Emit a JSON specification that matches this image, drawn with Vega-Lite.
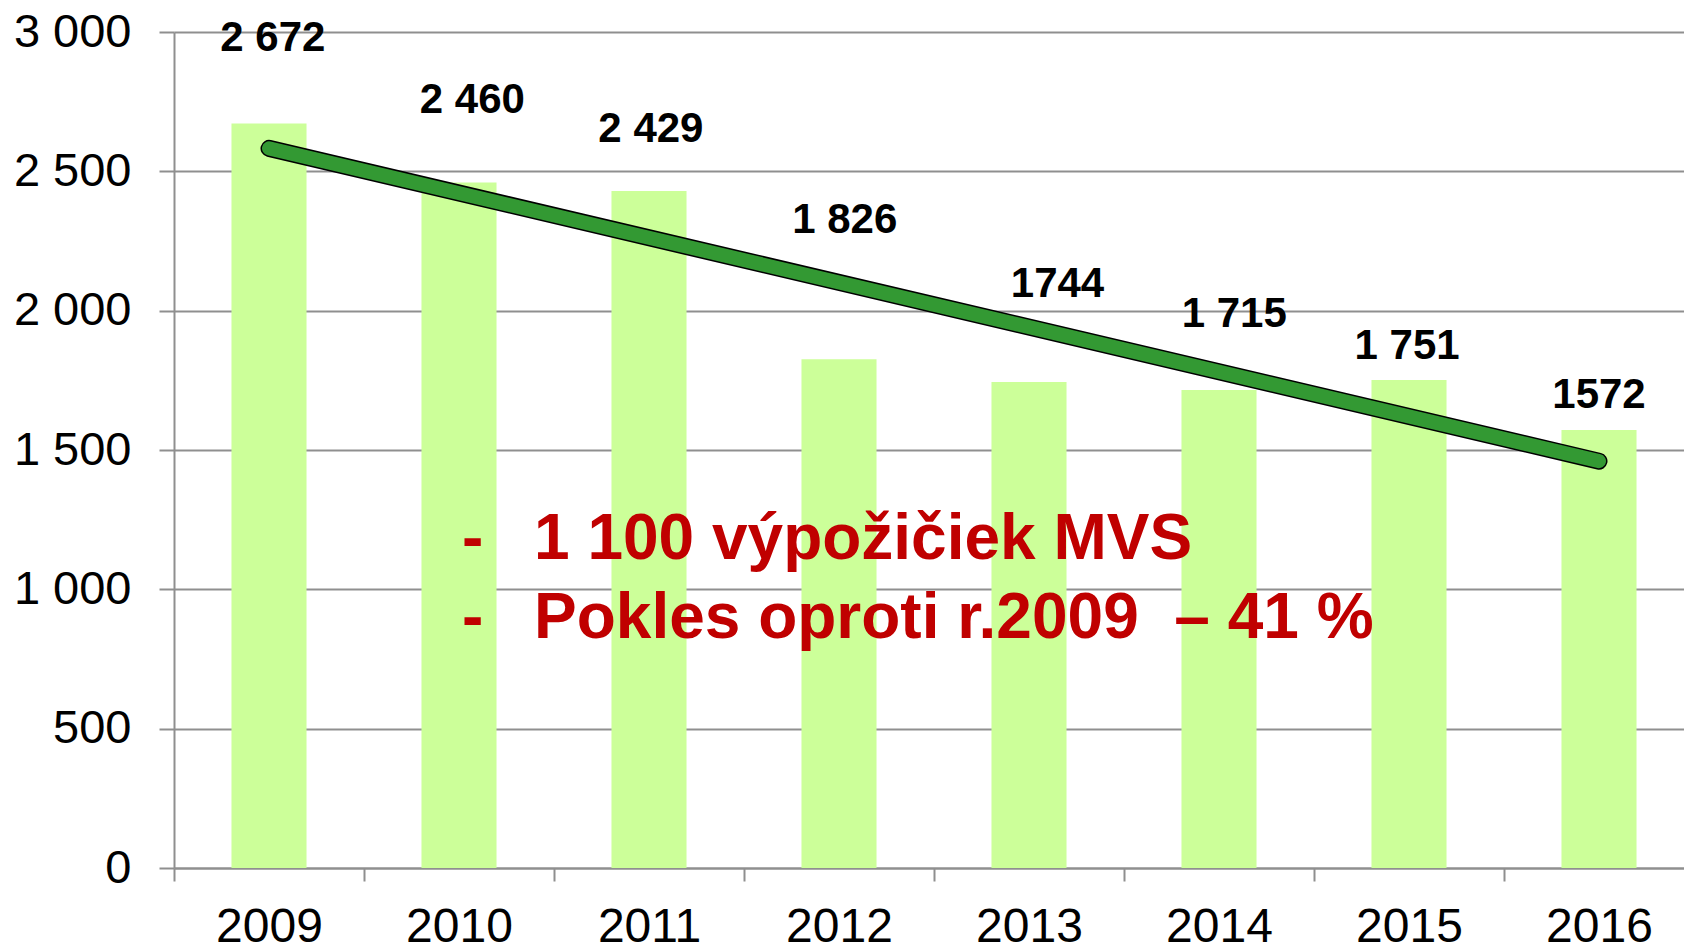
{
  "$schema": "https://vega.github.io/schema/vega-lite/v6.json",
  "width": 1520,
  "height": 836,
  "autosize": {"type": "none"},
  "padding": {"left": 174, "top": 32, "right": -10, "bottom": 77},
  "background": "white",
  "config": {
    "view": {"stroke": null},
    "font": "Liberation Sans",
    "text": {"font": "Liberation Sans"}
  },
  "datasets": {
    "loans": [
      {"year": 2009, "value": 2672, "label": "2 672", "label_x": 2009.02, "label_at": 2980},
      {"year": 2010, "value": 2460, "label": "2 460", "label_x": 2010.07, "label_at": 2757},
      {"year": 2011, "value": 2429, "label": "2 429", "label_x": 2011.01, "label_at": 2653},
      {"year": 2012, "value": 1826, "label": "1 826", "label_x": 2012.03, "label_at": 2325},
      {"year": 2013, "value": 1744, "label": "1744", "label_x": 2013.15, "label_at": 2096},
      {"year": 2014, "value": 1715, "label": "1 715", "label_x": 2014.08, "label_at": 1988},
      {"year": 2015, "value": 1751, "label": "1 751", "label_x": 2014.99, "label_at": 1874},
      {"year": 2016, "value": 1572, "label": "1572", "label_x": 2016.0, "label_at": 1697}
    ],
    "notes": [
      {"year": 2010, "at": 1108, "text": "1 100 výpožičiek MVS"},
      {"year": 2010, "at": 826, "text": "Pokles oproti r.2009\u00a0\u00a0– 41 %"}
    ]
  },
  "data": {"name": "loans"},
  "resolve": {"scale": {"x": "independent"}},
  "layer": [
    {
      "layer": [
        {
          "mark": {"type": "bar", "color": "#CCFF99", "width": {"band": 0.395}},
          "encoding": {
            "x": {
              "field": "year",
              "type": "ordinal",
              "scale": {"paddingInner": 0, "paddingOuter": 0},
              "axis": {
                "title": null,
                "labelAngle": 0,
                "labelFont": "Liberation Sans",
                "labelFontSize": 48,
                "labelColor": "black",
                "labelPadding": 22,
                "tickBand": "extent",
                "tickSize": 13,
                "tickColor": "#8f8f8f",
                "tickWidth": 2,
                "domainColor": "#8f8f8f",
                "domainWidth": 2,
                "grid": false
              }
            },
            "y": {
              "field": "value",
              "type": "quantitative",
              "scale": {"domain": [0, 3000], "nice": false},
              "axis": {
                "title": null,
                "values": [0, 500, 1000, 1500, 2000, 2500, 3000],
                "labelExpr": "replace(format(datum.value, ','), ',', ' ')",
                "labelFont": "Liberation Sans",
                "labelFontSize": 47,
                "labelColor": "black",
                "labelPadding": 28,
                "tickSize": 15,
                "tickColor": "#8f8f8f",
                "tickWidth": 2,
                "domainColor": "#8f8f8f",
                "domainWidth": 2,
                "grid": true,
                "gridColor": "#8f8f8f",
                "gridWidth": 2
              }
            }
          }
        },
        {
          "transform": [{"regression": "value", "on": "year"}],
          "mark": {"type": "line", "color": "black", "strokeWidth": 17, "strokeCap": "round"},
          "encoding": {
            "x": {"field": "year", "type": "ordinal"},
            "y": {"field": "value", "type": "quantitative"}
          }
        },
        {
          "transform": [{"regression": "value", "on": "year"}],
          "mark": {"type": "line", "color": "#339933", "strokeWidth": 14, "strokeCap": "round"},
          "encoding": {
            "x": {"field": "year", "type": "ordinal"},
            "y": {"field": "value", "type": "quantitative"}
          }
        },
        {
          "data": {"name": "notes"},
          "mark": {"type": "text", "fontSize": 64, "fontWeight": "bold", "color": "#C00000", "baseline": "alphabetic", "align": "left", "dx": 3},
          "encoding": {
            "x": {"field": "year", "type": "ordinal"},
            "y": {"field": "at", "type": "quantitative"},
            "text": {"value": "-"}
          }
        },
        {
          "data": {"name": "notes"},
          "mark": {"type": "text", "fontSize": 64, "fontWeight": "bold", "color": "#C00000", "baseline": "alphabetic", "align": "left", "dx": 75},
          "encoding": {
            "x": {"field": "year", "type": "ordinal"},
            "y": {"field": "at", "type": "quantitative"},
            "text": {"field": "text"}
          }
        }
      ]
    },
    {
      "mark": {"type": "text", "fontSize": 42, "fontWeight": "bold", "color": "black", "baseline": "middle", "align": "center"},
      "encoding": {
        "x": {"field": "label_x", "type": "quantitative", "scale": {"domain": [2008.5, 2016.5], "nice": false, "zero": false}, "axis": null},
        "y": {"field": "label_at", "type": "quantitative"},
        "text": {"field": "label"}
      }
    }
  ]
}
